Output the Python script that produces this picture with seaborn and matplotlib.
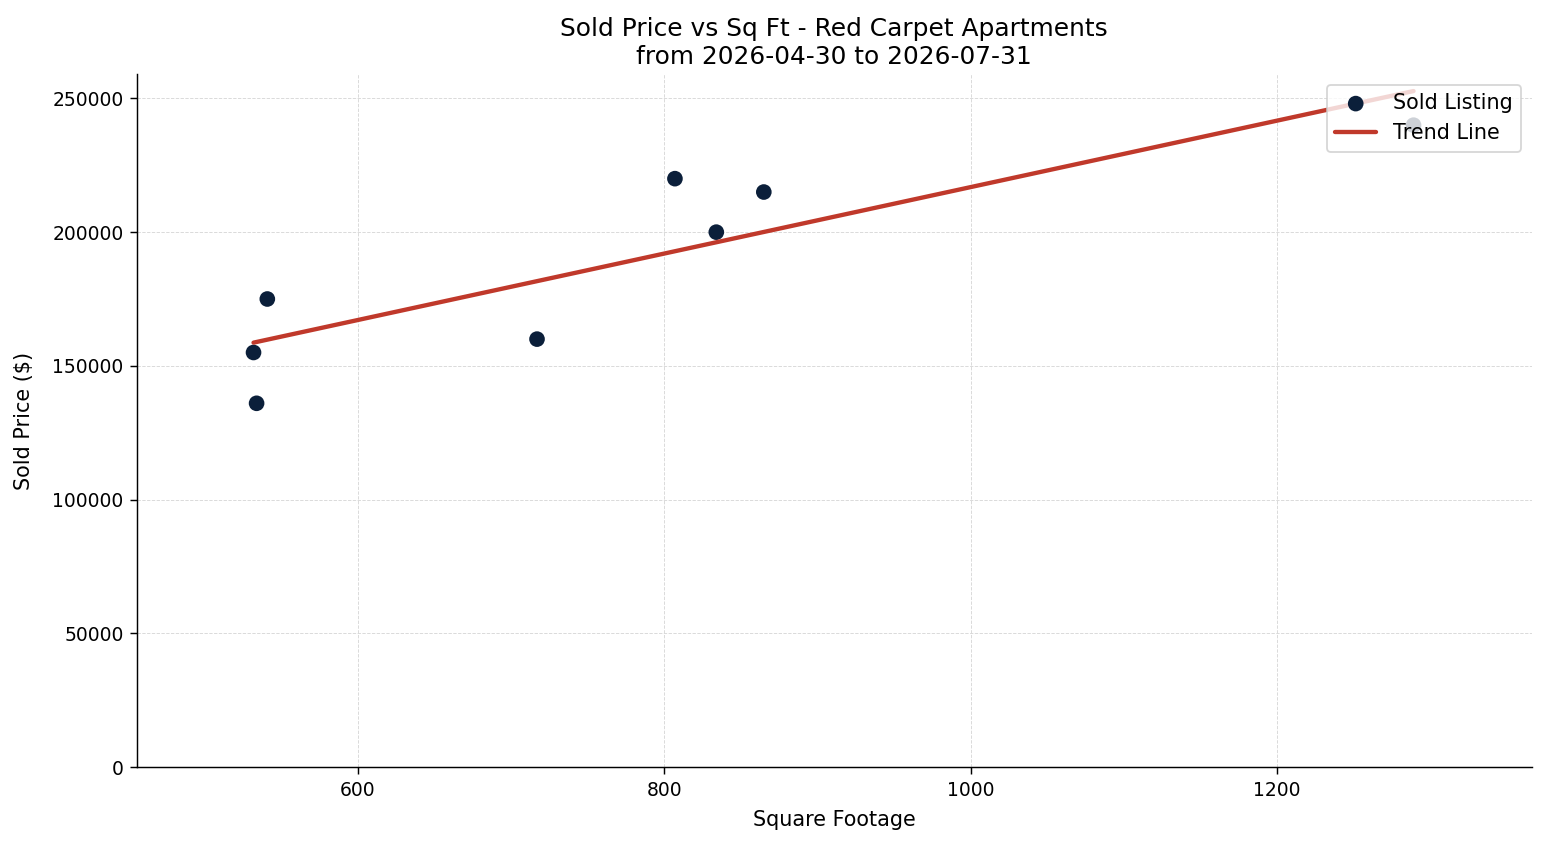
import numpy as np
import matplotlib
matplotlib.use("Agg")
import matplotlib.pyplot as plt
import pandas as pd
import seaborn as sns

# data
sqft = [532, 534, 541, 717, 807, 834, 865, 1289]
price = [155000, 136000, 175000, 160000, 220000, 200000, 215000, 240000]

title = "Sold Price vs Sq Ft - Red Carpet Apartments\nfrom 2026-04-30 to 2026-07-31"

df = pd.DataFrame({"Square Footage": sqft, "Sold Price": price})

sns.set_style("white")
plt.rcParams['font.family'] = ['DejaVu Sans']
plt.rcParams['text.color'] = 'black'
plt.rcParams['axes.labelcolor'] = 'black'
plt.rcParams['xtick.color'] = 'black'
plt.rcParams['ytick.color'] = 'black'

fig, ax = plt.subplots(figsize=(1547 / 130, 845 / 130), dpi=130)
fig.subplots_adjust(left=0.0886, right=0.990, top=0.912, bottom=0.0923)

sns.scatterplot(data=df, x="Square Footage", y="Sold Price", ax=ax,
                color="#0b1f3a", s=75, edgecolor="none", label="Sold Listing")

# trend line (least squares fit)
m, b = np.polyfit(df["Square Footage"], df["Sold Price"], 1)
xs = np.array([df["Square Footage"].min(), df["Square Footage"].max()])
ax.plot(xs, m * xs + b, color="#c0392b", linewidth=2.4, label="Trend Line")

ax.set_xlim(456, 1366)
ax.set_ylim(0, 259000)
ax.set_xticks([600, 800, 1000, 1200])
ax.set_yticks([0, 50000, 100000, 150000, 200000, 250000])
ax.grid(True, linestyle="--", linewidth=0.5, color="#d8d8d8")
ax.set_axisbelow(True)
sns.despine(ax=ax)
ax.spines["left"].set_color("black")
ax.spines["bottom"].set_color("black")
ax.tick_params(axis="both", labelsize=10.4, length=4, color="black", left=True, bottom=True)

ax.set_title(title, fontsize=13.8)
ax.set_xlabel("Square Footage", fontsize=11.5, labelpad=6)
ax.set_ylabel("Sold Price ($)", fontsize=11.5, labelpad=10)
ax.legend(loc="upper right", fontsize=11.5, frameon=True)

fig.savefig("out.png", dpi=130)
